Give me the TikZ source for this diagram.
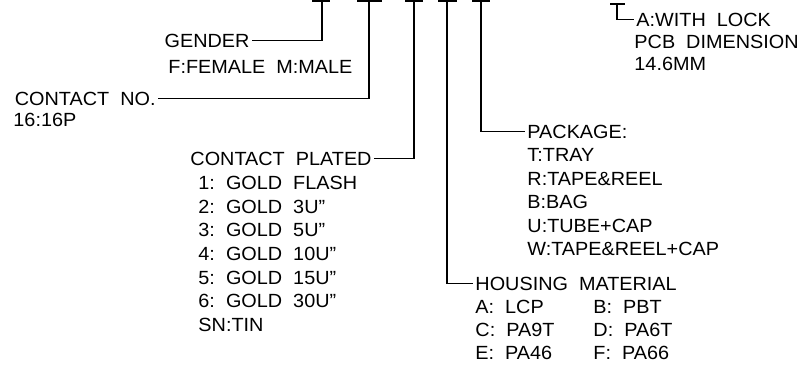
\documentclass[tikz,border=0pt]{standalone}
\usepackage{fontspec}
\setmainfont{Liberation Sans}[FakeStretch=1.04]
\begin{document}
\begin{tikzpicture}[x=0.75pt,y=-0.75pt,line width=1.3pt,
  txt/.style={anchor=base west,inner xsep=1.2pt,inner ysep=0pt,font=\fontsize{14.3}{16}\selectfont},
  lbl/.style={anchor=base east,inner xsep=1.2pt,inner ysep=0pt,font=\fontsize{14.3}{16}\selectfont},
  tbar/.style={line width=1.3pt}]
\useasboundingbox (0,0) rectangle (807,365);
% stems tops
\coordinate (t1) at (322,1);
\coordinate (t2) at (369,1);
\coordinate (t3) at (414,1);
\coordinate (t4) at (447,1);
\coordinate (t5) at (481,1);
\coordinate (t6) at (617,4);
\draw[tbar] (312,1) -- (330,1);
\draw[tbar] (357,1) -- (382,1);
\draw[tbar] (405,1) -- (423,1);
\draw[tbar] (438,1) -- (457,1);
\draw[tbar] (472,1) -- (490,1);
\draw[tbar] (610,4) -- (625,4);
% gender
\node[lbl] (gen) at (252,47) {GENDER};
\node[txt] (gen1) at (166,73) {F:FEMALE~~M:MALE};
\draw (gen.east) -| (t1);
% contact no
\node[lbl] (cno) at (158,105) {CONTACT~~NO.};
\node[txt] (cno1) at (11,126) {16:16P};
\draw (cno.east) -| (t2);
% contact plated
\node[lbl] (cpl) at (374,165) {CONTACT~~PLATED};
\node[txt] (cp1) at (196,189) {1:~~GOLD~~FLASH};
\node[txt] (cp2) at (196,213) {2:~~GOLD~~3U''};
\node[txt] (cp3) at (196,236) {3:~~GOLD~~5U''};
\node[txt] (cp4) at (196,260) {4:~~GOLD~~10U''};
\node[txt] (cp5) at (196,284) {5:~~GOLD~~15U''};
\node[txt] (cp6) at (196,307) {6:~~GOLD~~30U''};
\node[txt] (cp7) at (196,331) {SN:TIN};
\draw (cpl.east) -| (t3);
% housing
\node[txt] (hou) at (473,290) {HOUSING~~MATERIAL};
\node[txt] (ha) at (473,313) {A:~~LCP};
\node[txt] (hb) at (591,313) {B:~~PBT};
\node[txt] (hc) at (473,336) {C:~~PA9T};
\node[txt] (hd) at (591,336) {D:~~PA6T};
\node[txt] (he) at (473,359) {E:~~PA46};
\node[txt] (hf) at (591,359) {F:~~PA66};
\draw (t4) |- (hou.west);
% package
\node[txt] (pkg) at (525,138) {PACKAGE:};
\node[txt] (pk1) at (525,161) {T:TRAY};
\node[txt] (pk2) at (525,185) {R:TAPE\&REEL};
\node[txt] (pk3) at (525,208) {B:BAG};
\node[txt] (pk4) at (525,232) {U:TUBE+CAP};
\node[txt] (pk5) at (525,255) {W:TAPE\&REEL+CAP};
\draw (t5) |- (pkg.west);
% lock
\node[txt] (lk) at (634,26) {A:WITH~~LOCK};
\node[txt] (lk1) at (632,48) {PCB~~DIMENSION};
\node[txt] (lk2) at (632,70) {14.6MM};
\draw (t6) |- (lk.west);
\end{tikzpicture}
\end{document}
